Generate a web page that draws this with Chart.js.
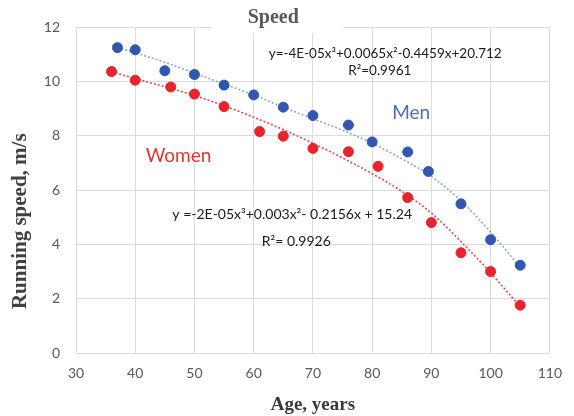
<!DOCTYPE html>
<html>
<head>
<meta charset="utf-8">
<script src="https://cdn.jsdelivr.net/npm/chart.js@4.4.0/dist/chart.umd.min.js"></script>
<style>
  html, body { margin: 0; padding: 0; background: #fff; }
  #wrap { width: 574px; height: 416px; }
</style>
</head>
<body>
<div id="wrap"><canvas id="speedChart" width="574" height="416"></canvas></div>
<script>
// Données (âge en années, vitesse en m/s)
const menAges = [37, 40, 45, 50, 55, 60, 65, 70, 76, 80, 86, 89.5, 95, 100, 105];
const menSpeed = [11.24, 11.16, 10.39, 10.25, 9.86, 9.50, 9.05, 8.74, 8.39, 7.77, 7.40, 6.68, 5.49, 4.17, 3.23];

const womenAges = [36, 40, 46, 50, 55, 61, 65, 70, 76, 81, 86, 90, 95, 100, 105];
const womenSpeed = [10.36, 10.04, 9.79, 9.53, 9.07, 8.15, 7.98, 7.53, 7.41, 6.87, 5.72, 4.80, 3.69, 3.00, 1.76];

// Courbes de tendance (pointillés)
const menTrendAges = [37, 40, 45, 50, 55, 60, 65, 70, 75, 80, 85, 90, 95, 100, 105];
const menTrend = [11.25, 11.05, 10.7, 10.3, 9.9, 9.5, 9.05, 8.62, 8.2, 7.72, 7.15, 6.5, 5.6, 4.45, 3.15];
const womenTrendAges = [36, 40, 45, 50, 55, 60, 65, 70, 75, 80, 85, 90, 95, 100, 105];
const womenTrend = [10.35, 10.1, 9.8, 9.48, 9.1, 8.68, 8.22, 7.72, 7.18, 6.6, 5.95, 5.15, 4.1, 2.95, 1.7];

const titleText = 'Speed';
const xTitle = 'Age, years';
const yTitle = 'Running speed, m/s';
const menEquation = ['y=-4E-05x³+0.0065x²-0.4459x+20.712', 'R²=0.9961'];
const womenEquation = ['y =-2E-05x³+0.003x²- 0.2156x + 15.24', 'R²= 0.9926'];

const BLUE = '#3356b0';
const RED = '#e8232b';

function toPoints(xs, ys) {
  return xs.map((x, i) => ({ x: x, y: ys[i] }));
}

// Textes posés sur le graphique (titre, équations, étiquettes)
const textPlugin = {
  id: 'textes',
  afterDatasetsDraw(chart) {
    const ctx = chart.ctx;
    const xs = chart.scales.x;
    const ys = chart.scales.y;
    const area = chart.chartArea;
    ctx.save();
    ctx.textAlign = 'center';
    ctx.textBaseline = 'middle';

    // titre avec fond blanc qui coupe la grille du haut
    const tx = xs.getPixelForValue(63.3);
    ctx.fillStyle = '#fff';
    ctx.fillRect(tx - 62, area.top - 24, 132, 30);
    ctx.fillStyle = '#595959';
    ctx.font = 'bold 20px "Liberation Serif"';
    ctx.fillText(titleText, tx, area.top - 9);

    // titre de l'axe Y
    ctx.save();
    ctx.translate(area.left - 55, ys.getPixelForValue(4.85));
    ctx.rotate(-Math.PI / 2);
    ctx.fillStyle = '#404040';
    ctx.font = 'bold 21px "Liberation Serif"';
    ctx.fillText(yTitle, 0, 0);
    ctx.restore();

    // équations
    ctx.fillStyle = '#1a1a1a';
    ctx.font = '13.5px Lato';
    ctx.fillText(menEquation[0], xs.getPixelForValue(82.2), ys.getPixelForValue(11.02));
    ctx.fillText(menEquation[1], xs.getPixelForValue(81.3), ys.getPixelForValue(10.4));
    ctx.font = '14px Lato';
    ctx.fillText(womenEquation[0], xs.getPixelForValue(66.5), ys.getPixelForValue(5.11));
    ctx.fillText(womenEquation[1], xs.getPixelForValue(67.2), ys.getPixelForValue(4.12));

    // étiquettes des séries
    ctx.font = '19px Lato';
    ctx.fillStyle = '#4a6fc0';
    ctx.fillText('Men', xs.getPixelForValue(86.6), ys.getPixelForValue(8.83));
    ctx.fillStyle = '#e5352b';
    ctx.fillText('Women', xs.getPixelForValue(47.3), ys.getPixelForValue(7.24));
    ctx.restore();
  }
};

const ctx = document.getElementById('speedChart').getContext('2d');
new Chart(ctx, {
  type: 'scatter',
  data: {
    datasets: [
      {
        label: 'Men',
        data: toPoints(menAges, menSpeed),
        backgroundColor: BLUE,
        borderColor: BLUE,
        pointRadius: 5,
        order: 0
      },
      {
        label: 'Women',
        data: toPoints(womenAges, womenSpeed),
        backgroundColor: RED,
        borderColor: RED,
        pointRadius: 5,
        order: 0
      },
      {
        label: 'Men trend',
        data: toPoints(menTrendAges, menTrend),
        showLine: true,
        borderColor: '#8ea7d6',
        borderWidth: 1.6,
        borderDash: [2, 2],
        cubicInterpolationMode: 'monotone',
        pointRadius: 0,
        order: 1
      },
      {
        label: 'Women trend',
        data: toPoints(womenTrendAges, womenTrend),
        showLine: true,
        borderColor: '#e8494a',
        borderWidth: 1.6,
        borderDash: [2, 2],
        cubicInterpolationMode: 'monotone',
        pointRadius: 0,
        order: 1
      }
    ]
  },
  options: {
    responsive: false,
    animation: false,
    layout: { padding: { left: 0, right: 13, top: 27, bottom: 0 } },
    plugins: {
      legend: { display: false },
      tooltip: { enabled: false }
    },
    scales: {
      x: {
        type: 'linear',
        min: 30,
        max: 110,
        afterFit: (scale) => { scale.height = 63; },
        ticks: {
          stepSize: 10,
          padding: 12,
          color: '#595959',
          font: { family: 'Lato', size: 14 }
        },
        grid: { color: '#dcdcdc', drawTicks: false },
        border: { display: false },
        title: {
          display: true,
          text: xTitle,
          color: '#3a3a3a',
          font: { family: 'Liberation Serif', size: 19, weight: 'bold' },
          padding: { top: 0, bottom: 0 }
        }
      },
      y: {
        min: 0,
        max: 12,
        afterFit: (scale) => { scale.width = 76; },
        ticks: {
          stepSize: 2,
          padding: 16,
          color: '#595959',
          font: { family: 'Lato', size: 14 }
        },
        grid: { color: '#dcdcdc', drawTicks: false },
        border: { display: false }
      }
    }
  },
  plugins: [textPlugin]
});
</script>
</body>
</html>
